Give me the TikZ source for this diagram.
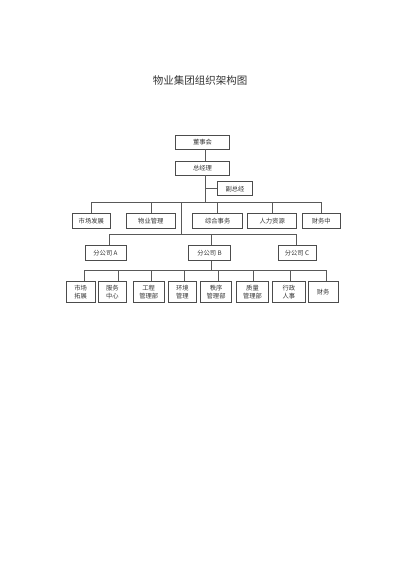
\documentclass[tikz,border=0pt]{standalone}
\usepackage{fontspec}
\newfontfamily\cjk{Noto Sans CJK SC}
\begin{document}
\begin{tikzpicture}[x=1pt,y=-1pt,
  box/.style={draw=black!70,line width=0.7pt,fill=white,inner sep=0pt,align=center,
    text=black!80,font=\cjk\fontsize{6.3}{7.6}\selectfont},
  link/.style={draw=black!65,line width=0.6pt}]
\useasboundingbox (0,0) rectangle (400,565);
\node[font=\cjk\fontsize{10.5}{12}\selectfont,text=black!80] (title) at (200,80) {物业集团组织架构图};
% level 1
\node[box,minimum width=54,minimum height=14] (dsh) at (202.5,142) {董事会};
\node[box,minimum width=54,minimum height=13.5] (zjl) at (202.5,168.3) {总经理};
\node[box,minimum width=35.4,minimum height=14] (fzj) at (235,188.7) {副总经};
% level 2
\node[box,minimum width=37.5,minimum height=14.5] (b1) at (91.3,220.8) {市场发展};
\node[box,minimum width=48.5,minimum height=14.5] (b2) at (150.8,220.8) {物业管理};
\node[box,minimum width=50,minimum height=14.5] (b3) at (217.7,220.8) {综合事务};
\node[box,minimum width=49,minimum height=14.5] (b4) at (272.2,220.8) {人力资源};
\node[box,minimum width=37.7,minimum height=14.5] (b5) at (321.2,220.8) {财务中};
% subsidiaries
\node[box,minimum width=41,minimum height=15.5] (sa) at (105.5,253) {分公司 A};
\node[box,minimum width=42,minimum height=15.5] (sb) at (209.5,253) {分公司 B};
\node[box,minimum width=38,minimum height=15.5] (sc) at (297,253) {分公司 C};
% level 4
\node[box,minimum width=28.7,minimum height=21] (c1) at (80.7,292) {市场\\拓展};
\node[box,minimum width=28.7,minimum height=21] (c2) at (112.3,292) {服务\\中心};
\node[box,minimum width=30.7,minimum height=21] (c3) at (148.7,292) {工程\\管理部};
\node[box,minimum width=28.1,minimum height=21] (c4) at (182.3,292) {环境\\管理};
\node[box,minimum width=31.2,minimum height=21] (c5) at (216.1,292) {秩序\\管理部};
\node[box,minimum width=32.5,minimum height=21] (c6) at (252.5,292) {质量\\管理部};
\node[box,minimum width=32.3,minimum height=21] (c7) at (288.8,292) {行政\\人事};
\node[box,minimum width=30.3,minimum height=21] (c8) at (323.2,292) {财务};
% bus coordinates
\coordinate (spine) at (205,0);
\coordinate (bus2) at (0,202.5);
\coordinate (subx) at (181.7,0);
\coordinate (bus3) at (0,234.7);
\coordinate (bus4) at (0,270.7);
% connectors top
\draw[link] (dsh.south -| spine) -- (zjl.north -| spine);
\draw[link] (zjl.south -| spine) -- (spine |- bus2);
\draw[link] (fzj.west) -- (fzj.west -| spine);
\draw[link] (b1.north) -- (b1.north |- bus2) -- (b5.north |- bus2) -- (b5.north);
\foreach \n in {b2,b3,b4} \draw[link] (\n.north) -- (\n.north |- bus2);
% to subsidiaries
\draw[link] (subx |- bus2) -- (subx |- bus3);
\draw[link] ([xshift=3.5]sa.north) -- ([xshift=3.5]sa.north |- bus3) -- ([xshift=-1]sc.north |- bus3) -- ([xshift=-1]sc.north);
\draw[link] ([xshift=2.2]sb.north) -- ([xshift=2.2]sb.north |- bus3);
% level 4
\draw[link] ([xshift=2.2]sb.south) -- ([xshift=2.2]sb.south |- bus4);
\draw[link] ([xshift=4]c1.north) -- ([xshift=4]c1.north |- bus4) -- ([xshift=3.1]c8.north |- bus4) -- ([xshift=3.1]c8.north);
\draw[link] ([xshift=6]c2.north) -- ([xshift=6]c2.north |- bus4);
\draw[link] ([xshift=2.8]c3.north) -- ([xshift=2.8]c3.north |- bus4);
\draw[link] ([xshift=2.4]c4.north) -- ([xshift=2.4]c4.north |- bus4);
\draw[link] ([xshift=2.2]c5.north) -- ([xshift=2.2]c5.north |- bus4);
\draw[link] ([xshift=1.2]c6.north) -- ([xshift=1.2]c6.north |- bus4);
\draw[link] ([xshift=1.7]c7.north) -- ([xshift=1.7]c7.north |- bus4);
\end{tikzpicture}
\end{document}
